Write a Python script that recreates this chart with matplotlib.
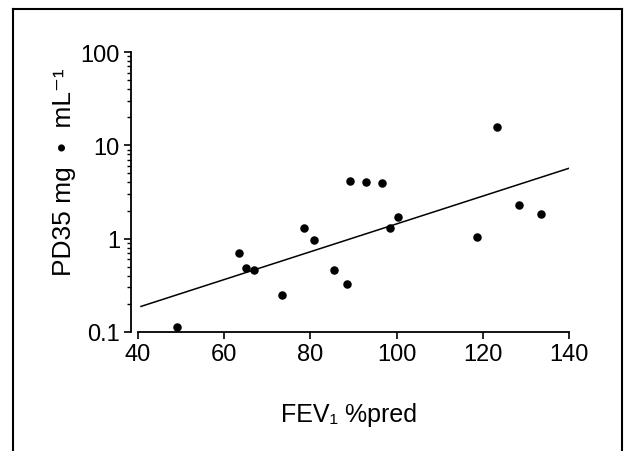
import matplotlib.pyplot as plt
from matplotlib.lines import Line2D
from matplotlib.ticker import LogLocator, NullFormatter, FixedLocator, FixedFormatter

plt.rcParams['font.family'] = ['Liberation Sans', 'DejaVu Sans']

# Werte
fev1 = [49.1, 63.4, 65.0, 67.0, 73.5, 78.6, 80.8, 85.4, 88.6, 89.3,
        93.0, 96.5, 98.4, 100.4, 118.7, 123.2, 128.4, 133.6]
pd35 = [0.112, 0.70, 0.49, 0.46, 0.25, 1.31, 0.96, 0.46, 0.33, 4.1,
        4.0, 3.97, 1.29, 1.72, 1.05, 15.8, 2.30, 1.83]

# Regressionsgerade (Endpunkte)
line_x = [40.7, 140.0]
line_y = [0.188, 5.68]

x_ticks = [40, 60, 80, 100, 120, 140]
y_ticks = [0.1, 1, 10, 100]
y_ticklabels = ['0.1', '1', '10', '100']

W, H = 624, 452
fig = plt.figure(figsize=(W / 100, H / 100), dpi=100)
ax = fig.add_axes([138 / W, 1 - 333 / H, (569 - 138) / W, (333 - 53) / H])

ax.plot(line_x, line_y, color='black', lw=1.1)
ax.scatter(fev1, pd35, s=26, color='black', zorder=3, clip_on=False)

ax.set_yscale('log')
ax.set_xlim(40, 140)
ax.set_ylim(0.1, 100)

ax.xaxis.set_major_locator(FixedLocator(x_ticks))
ax.yaxis.set_major_locator(FixedLocator(y_ticks))
ax.yaxis.set_major_formatter(FixedFormatter(y_ticklabels))
ax.yaxis.set_minor_locator(LogLocator(base=10, subs=range(2, 10)))
ax.yaxis.set_minor_formatter(NullFormatter())

for s in ['top', 'right']:
    ax.spines[s].set_visible(False)
ax.spines['left'].set_position(('outward', 5))
ax.spines['left'].set_linewidth(1.3)
ax.spines['bottom'].set_linewidth(1.3)

ax.tick_params(axis='both', which='major', direction='out', length=5, width=1.2,
               labelsize=17, pad=3, color='black', labelcolor='black')
ax.tick_params(axis='y', which='minor', direction='out', length=3, width=1)

fig.text(64 / W, 1 - 172 / H, 'PD35 mg  \u2022  mL\u207b\u00b9', rotation=90,
         ha='center', va='center', fontsize=19)
fig.text(349 / W, 1 - 422 / H, 'FEV\u2081 %pred', ha='center', va='baseline',
         fontsize=18)

# Rahmen (unten offen)
for xs, ys in [([13, 13], [10, 452]), ([13, 622], [10, 10]), ([622, 622], [10, 452])]:
    fig.add_artist(Line2D([x / W for x in xs], [1 - y / H for y in ys],
                          transform=fig.transFigure, color='black', lw=1.5))

fig.savefig('out.png', dpi=100)
